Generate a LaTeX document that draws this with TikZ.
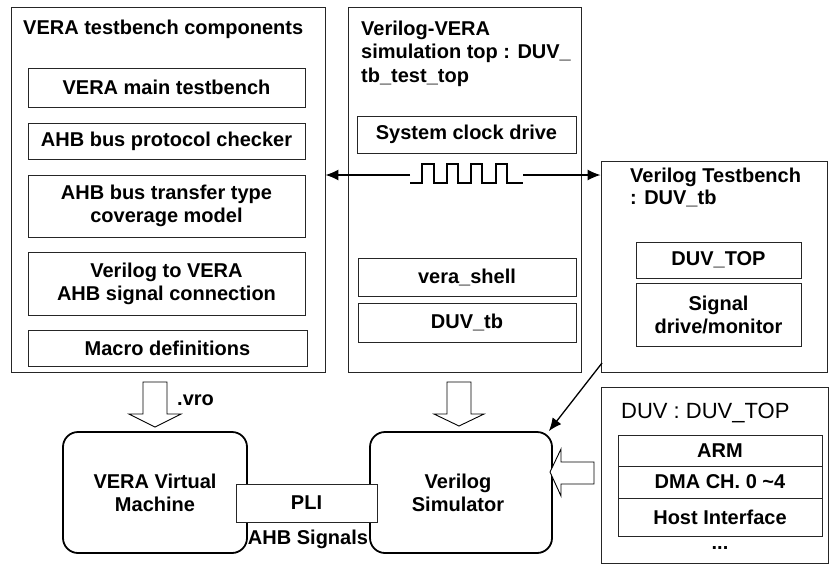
\documentclass[tikz,border=0pt]{standalone}
\usepackage{fontspec}
\setmainfont{Liberation Sans}
\usetikzlibrary{arrows.meta}
\tikzset{
  frame/.style={draw=black!85, line width=0.9pt},
  box/.style={draw=black!85, line width=1pt, fill=white, align=center, inner sep=0pt,
    font=\fontsize{20}{23}\selectfont\bfseries},
  rbox/.style={draw=black, line width=1.8pt, rounded corners=15pt, align=center, inner sep=0pt,
    font=\fontsize{20}{23}\selectfont\bfseries},
  ttl/.style={inner sep=0pt, align=left, font=\fontsize{20}{23.5}\selectfont\bfseries},
  lbl/.style={inner sep=0pt, font=\fontsize{20}{23}\selectfont\bfseries},
  arr/.style={line width=1.3pt, -{Latex[length=13pt,width=11pt]}},
  blk/.style={draw=black, line width=0.9pt, fill=white, line join=miter},
  wave/.style={line width=1.8pt, line join=miter}
}
\begin{document}
\begin{tikzpicture}[x=1pt,y=-1pt]
\useasboundingbox (0,0) rectangle (829,565);

% left box
\node[frame, minimum width=314pt, minimum height=365pt] (lbox) at (168,189.5) {};
\node[ttl, anchor=base west] (ltitle) at (23,34) {VERA testbench components};
\node[box, minimum width=277pt, minimum height=39pt] (b1) at (166.5,87.5) {VERA main testbench};
\node[box, minimum width=277pt, minimum height=36pt] (b2) at (166.5,141) {AHB bus protocol checker};
\node[box, minimum width=277pt, minimum height=62pt] (b3) at (166.5,206) {AHB bus transfer type\\coverage model};
\node[box, minimum width=277pt, minimum height=63pt] (b4) at (166.5,283.5) {Verilog to VERA\\AHB signal connection};
\node[box, minimum width=279pt, minimum height=36pt] (b5) at (167.5,348) {Macro definitions};

% middle box
\node[frame, minimum width=233pt, minimum height=365pt] (mbox) at (464.5,189.5) {};
\node[ttl, anchor=north west] (mtitle) at (361,20.4) {Verilog-VERA\\simulation top : DUV\_\\tb\_test\_top};
\node[box, minimum width=219pt, minimum height=37pt] (clk) at (466.5,134.5) {System clock drive};
\node[box, minimum width=218pt, minimum height=38pt] (shell) at (467,277) {vera\_shell};
\node[box, minimum width=218pt, minimum height=39pt] (duvtb) at (467,322.5) {DUV\_tb};

% right testbench box
\node[frame, minimum width=226pt, minimum height=211pt] (tbox) at (714,266.5) {};
\node[ttl, anchor=north west, font=\fontsize{20}{22}\selectfont\bfseries] (rtitle) at (630,167.4) {Verilog Testbench\\: DUV\_tb};
\node[box, minimum width=165pt, minimum height=36pt] (duvtop) at (718.5,260) {DUV\_TOP};
\node[box, minimum width=165pt, minimum height=63pt] (sig) at (718.5,314.5) {Signal\\drive/monitor};

% clock waveform and arrows
\coordinate (w0) at (410,175);
\coordinate (w1) at (523,175);
\draw[wave] (410,183) -- (422,183) -- (422,164) -- (434,164) -- (434,183) -- (447,183) -- (447,164)
  -- (458,164) -- (458,183) -- (471,183) -- (471,164) -- (482,164) -- (482,183) -- (496,183)
  -- (496,164) -- (507,164) -- (507,183) -- (523,183);
\draw[arr] (w0) -- (lbox.east |- w0);
\draw[arr] (w1) -- (tbox.west |- w1);

% bottom rounded boxes
\node[rbox, minimum width=184pt, minimum height=121pt] (vm) at (155,492.5) {VERA Virtual\\Machine};
\node[rbox, minimum width=182pt, minimum height=121pt, text width=182pt] (sim) at (461,492.5) {\hspace*{-6pt}Verilog\\\hspace*{-6pt}Simulator};
\node[box, minimum width=141pt, minimum height=38pt] (pli) at (306.5,503) {PLI};
\node[lbl, anchor=base] (ahb) at (308,544) {AHB Signals};

% block arrows
\draw[blk] (143,382) -- (167,382) -- (167,414) -- (181,414) -- (155,427) -- (129,414) -- (143,414) -- cycle;
\node[lbl, anchor=base west] (vro) at (177,405) {.vro};
\draw[blk] (447,382) -- (471,382) -- (471,414) -- (484,414) -- (459,426) -- (434,414) -- (447,414) -- cycle;
\draw[blk] (594,462) -- (594,484) -- (561,484) -- (561,496) -- (550,472) -- (561,449) -- (561,462) -- cycle;

% diagonal arrow
\coordinate (d0) at (602,363);
\draw[arr] (d0) -- ([xshift=-4pt]sim.north east);

% DUV box
\node[frame, minimum width=227pt, minimum height=176pt] (duv) at (714.5,475) {};
\node[inner sep=0pt, anchor=base west, font=\fontsize{22}{24}\selectfont] (duvtitle) at (621,418) {DUV : DUV\_TOP};
\node[box, minimum width=204pt, minimum height=31pt] (arm) at (720,450.5) {ARM};
\node[box, minimum width=204pt, minimum height=32pt] (dma) at (720,482) {DMA CH. 0 \textasciitilde4};
\node[box, minimum width=204pt, minimum height=38pt] (host) at (720,517) {Host Interface};
\node[lbl, anchor=base] (dots) at (720,549) {...};
\end{tikzpicture}
\end{document}
